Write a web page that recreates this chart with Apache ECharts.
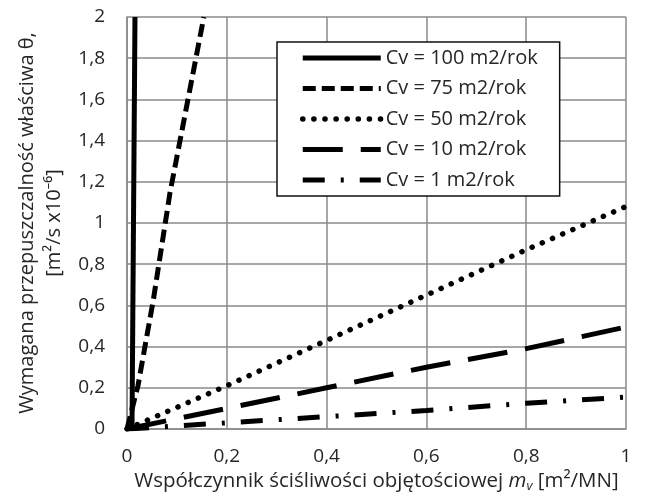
<!DOCTYPE html>
<html>
<head>
<meta charset="utf-8">
<script src="https://cdn.jsdelivr.net/npm/echarts@6/dist/echarts.min.js"></script>
<style>html,body{margin:0;padding:0;background:#fff;}#c{width:646px;height:502px;}</style>
</head>
<body>
<div id="c"></div>
<script>
// Data
const seriesNames = ['Cv = 100 m2/rok', 'Cv = 75 m2/rok', 'Cv = 50 m2/rok', 'Cv = 10 m2/rok', 'Cv = 1 m2/rok'];
const cv100X = [0.010, 0.016];
const cv100Y = [0, 2];
const cv75X = [0, 0.022, 0.053, 0.086, 0.154];
const cv75Y = [0, 0.21, 0.63, 1.145, 2];
const mvX = [0, 0.2, 0.4, 0.6, 0.8, 1];
const cv50Y = [0, 0.21, 0.43, 0.65, 0.87, 1.08];
const cv10Y = [0, 0.10, 0.20, 0.30, 0.39, 0.495];
const cv1Y = [0, 0.03, 0.06, 0.09, 0.125, 0.155];
const xTickLabels = ['0', '0,2', '0,4', '0,6', '0,8', '1'];
const yTickLabels = ['0', '0,2', '0,4', '0,6', '0,8', '1', '1,2', '1,4', '1,6', '1,8', '2'];

const pairs = (xs, ys) => xs.map((x, i) => [x, ys[i]]);
const font = '"Open Sans", "Noto Sans", sans-serif';
const txt = '#262626';
const gridCol = '#8a8a8a';

const styles = [
  { width: 5, type: 'solid', cap: 'butt' },
  { width: 5, type: [13, 6], cap: 'butt' },
  { width: 5.5, type: [0.1, 11], cap: 'round' },
  { width: 5, type: [40, 18], cap: 'butt' },
  { width: 5, type: [22, 16, 3, 16], cap: 'butt' }
];
const datas = [
  pairs(cv100X, cv100Y),
  pairs(cv75X, cv75Y),
  pairs(mvX, cv50Y),
  pairs(mvX, cv10Y),
  pairs(mvX, cv1Y)
];

const chart = echarts.init(document.getElementById('c'), null, { renderer: 'canvas' });
chart.setOption({
  animation: false,
  backgroundColor: '#fff',
  grid: { left: 127, right: 20, top: 17, bottom: 73, containLabel: false, outerBoundsMode: 'none' },
  xAxis: {
    type: 'value', min: 0, max: 1, interval: 0.2,
    axisLine: { show: true, lineStyle: { color: gridCol, width: 1.5 } },
    axisTick: { show: false },
    splitLine: { show: true, lineStyle: { color: gridCol, width: 1.5 } },
    axisLabel: {
      color: txt, fontSize: 19, fontFamily: font, margin: 18,
      formatter: (v) => xTickLabels[Math.round(v / 0.2)]
    },
    name: 'Współczynnik ściśliwości objętościowej {i|m}{s|v} [m²/MN]',
    nameLocation: 'middle', nameGap: 38,
    nameTextStyle: {
      color: txt, fontSize: 20.5, fontFamily: font,
      rich: {
        i: { fontStyle: 'italic', fontSize: 20.5, fontFamily: font, color: txt },
        s: { fontStyle: 'italic', fontSize: 13, fontFamily: font, color: txt, verticalAlign: 'bottom', padding: [10, 0, 0, 0] }
      }
    }
  },
  yAxis: {
    type: 'value', min: 0, max: 2, interval: 0.2,
    axisLine: { show: true, lineStyle: { color: gridCol, width: 1.5 } },
    axisTick: { show: false },
    splitLine: { show: true, lineStyle: { color: gridCol, width: 1.5 } },
    axisLabel: {
      color: txt, fontSize: 19, fontFamily: font, margin: 22,
      formatter: (v) => yTickLabels[Math.round(v / 0.2)]
    },
    name: 'Wymagana przepuszczalność właściwa θ,\n[m²/s x10⁻⁶]',
    nameLocation: 'middle', nameGap: 58,
    nameTextStyle: { color: txt, fontSize: 20, fontFamily: font, lineHeight: 27, align: 'center' }
  },
  legend: {
    show: true, orient: 'vertical', left: 277, top: 42,
    backgroundColor: '#fff', borderColor: '#111', borderWidth: 1.5,
    padding: [6, 22, 6, 23], itemWidth: 78, itemHeight: 16, itemGap: 10.5,
    selectedMode: false,
    itemStyle: { opacity: 0 },
    lineStyle: { width: 'inherit', type: 'inherit', cap: 'inherit' },
    textStyle: { color: txt, fontSize: 20, fontFamily: font, lineHeight: 16 },
    data: seriesNames
  },
  series: seriesNames.map((n, i) => ({
    name: n, type: 'line', data: datas[i], showSymbol: false, symbol: 'none',
    clip: true, z: 5 - i,
    lineStyle: { color: '#000', width: styles[i].width, type: styles[i].type, cap: styles[i].cap },
    itemStyle: { color: '#000' }
  }))
});
</script>
</body>
</html>
